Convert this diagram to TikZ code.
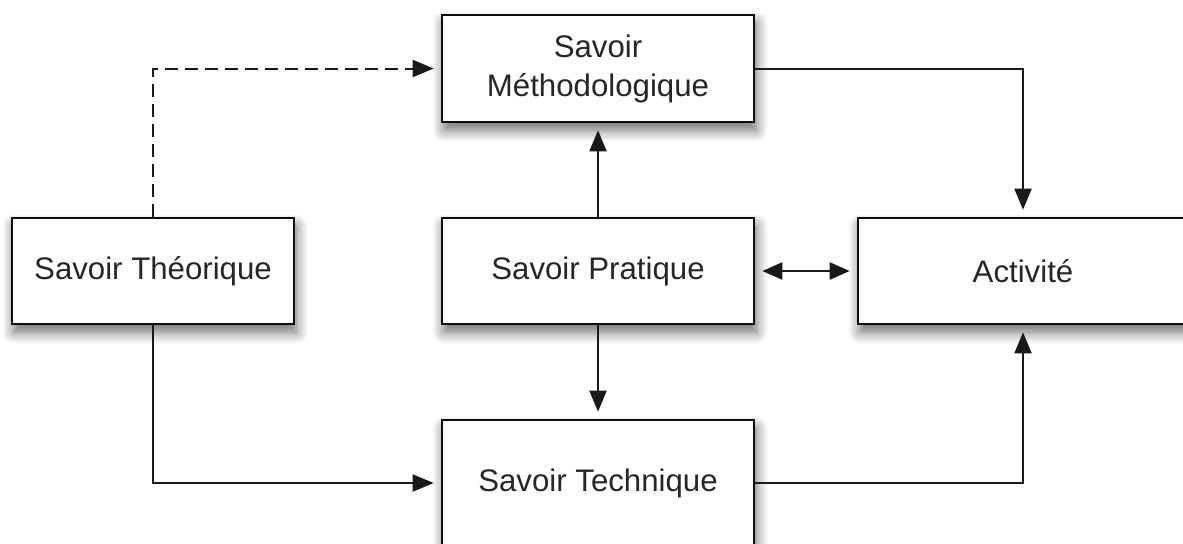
\documentclass[tikz,border=0pt]{standalone}
\usepackage{fontspec}
\setmainfont{Liberation Sans}
\usetikzlibrary{arrows.meta,shadows.blur}
\begin{document}
\begin{tikzpicture}[x=0.5pt,y=-0.5pt,
  box/.style={draw=black!95, line width=1.3pt, fill=white, inner sep=0pt,
    align=center, font=\fontsize{15.6}{19.5}\selectfont, text=black!85,
    blur shadow={shadow xshift=1pt, shadow yshift=-4pt,
      shadow blur radius=6pt, shadow blur steps=10, shadow opacity=60}},
  link/.style={line width=1pt, draw=black!90, -{Triangle[length=10.5pt,width=8.5pt]},
    shorten >=3.5pt},
  bothways/.style={line width=1.2pt, draw=black!90,
    {Triangle[length=10pt,width=8.5pt]}-{Triangle[length=10pt,width=8.5pt]},
    shorten >=3.5pt, shorten <=3.5pt},
  dashlink/.style={link, dash pattern=on 6.5pt off 3.5pt}
]
\useasboundingbox (0,0) rectangle (1183,543);
\clip (0,0) rectangle (1183,543);

% knowledge boxes
\node[box, minimum width=156pt, minimum height=53.5pt] (meth) at (598,68.5)
  {Savoir\\Méthodologique};
\node[box, minimum width=141pt, minimum height=53pt] (theo) at (153,271)
  {Savoir Théorique};
\node[box, minimum width=156pt, minimum height=53pt] (prat) at (598,271)
  {Savoir Pratique};
\node[box, minimum width=165pt, minimum height=53pt] (act) at (1023,271)
  {Activité};
\node[box, minimum width=156pt, minimum height=63pt] (tech) at (598,483)
  {Savoir Technique};

% relations
\draw[dashlink] (theo.north) |- (meth.west);
\draw[link] (meth.east) -| (act.north);
\draw[link] (prat.north) -- (meth.south);
\draw[link] (prat.south) -- (tech.north);
\draw[bothways] (prat.east) -- (act.west);
\draw[link] (theo.south) |- (tech.west);
\draw[link] (tech.east) -| (act.south);
\end{tikzpicture}
\end{document}
